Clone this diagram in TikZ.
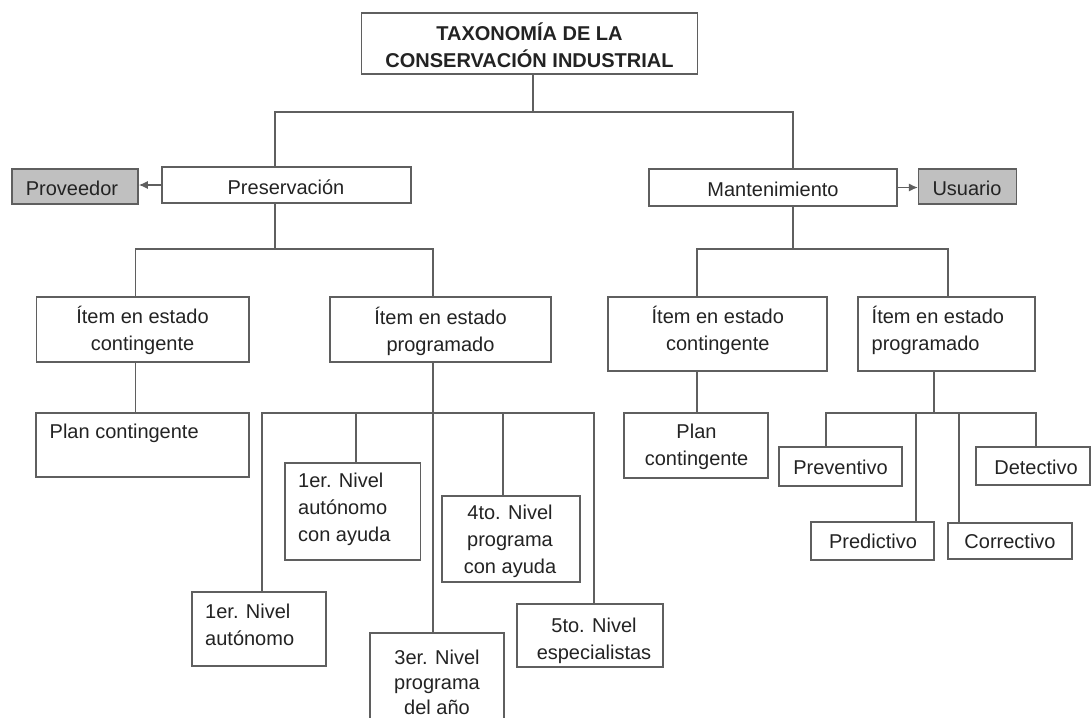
\documentclass[tikz,border=0pt]{standalone}
\usepackage{fontspec}
\setmainfont{Liberation Sans}
\usetikzlibrary{arrows.meta}
\definecolor{linec}{RGB}{95,95,95}
\definecolor{textc}{RGB}{35,35,35}
\definecolor{fillg}{RGB}{192,192,192}
\begin{document}
\begin{tikzpicture}[x=1pt,y=-1pt,
  frame/.style={draw=linec, line width=1.5pt, fill=white, inner sep=0pt},
  gframe/.style={frame, fill=fillg},
  txt/.style={inner sep=0pt, text=textc, font=\fontsize{20pt}{27pt}\selectfont},
  conn/.style={draw=linec, line width=1.4pt},
  arr/.style={conn, -{Latex[length=9pt,width=8pt]}}]
\useasboundingbox (0,0) rectangle (1091,717);
% frames
\node[frame, minimum width=336pt, minimum height=61pt] (title) at (529.5,43.5) {};
\node[gframe, minimum width=126pt, minimum height=35pt] (prov) at (75,186.5) {};
\node[frame, minimum width=249pt, minimum height=36pt] (pres) at (286.5,185) {};
\node[frame, minimum width=248pt, minimum height=37pt] (mant) at (773,187.5) {};
\node[gframe, minimum width=98pt, minimum height=35pt] (user) at (967.7,186.5) {};
\node[frame, minimum width=212.5pt, minimum height=65pt] (icl) at (142.75,329.5) {};
\node[frame, minimum width=221pt, minimum height=65pt] (ipl) at (440.5,329.5) {};
\node[frame, minimum width=219pt, minimum height=74pt] (icr) at (717.5,334) {};
\node[frame, minimum width=177pt, minimum height=74pt] (ipr) at (946.5,334) {};
\node[frame, minimum width=213pt, minimum height=64pt] (pcl) at (142.5,445) {};
\node[frame, minimum width=144pt, minimum height=65pt] (pcr) at (696,445.5) {};
\node[frame, minimum width=135.5pt, minimum height=97pt] (n1b) at (352.75,511.5) {};
\node[frame, minimum width=138pt, minimum height=86pt] (n4) at (511,539) {};
\node[frame, minimum width=134pt, minimum height=74pt] (n1a) at (259,629) {};
\node[frame, minimum width=134pt, minimum height=107pt] (n3) at (437,686.5) {};
\node[frame, minimum width=146pt, minimum height=63pt] (n5) at (590,635.5) {};
\node[frame, minimum width=123pt, minimum height=39pt] (prev) at (840.5,466.5) {};
\node[frame, minimum width=114pt, minimum height=38pt] (det) at (1033,466) {};
\node[frame, minimum width=123pt, minimum height=38pt] (pred) at (872.5,541) {};
\node[frame, minimum width=124pt, minimum height=36pt] (corr) at (1010,541) {};
% texts
\node[txt, align=center] (title-t) at (529.5,45) {\bfseries TAXONOMÍA DE LA\\\bfseries CONSERVACIÓN INDUSTRIAL};
\node[txt] (prov-t) at (72,188) {Proveedor};
\node[txt] (pres-t) at (286,187) {Preservación};
\node[txt] (mant-t) at (773,189) {Mantenimiento};
\node[txt] (user-t) at (967,188) {Usuario};
\node[txt, align=center] (icl-t) at (142.5,330) {Ítem en estado\\contingente};
\node[txt, align=center] (ipl-t) at (440.5,331) {Ítem en estado\\programado};
\node[txt, align=center] (icr-t) at (717.8,330.5) {Ítem en estado\\contingente};
\node[txt, align=left, anchor=west] (ipr-t) at (871.5,330.5) {Ítem en estado\\programado};
\node[txt, anchor=west] (pcl-t) at (49.5,433) {Plan contingente};
\node[txt, align=center] (pcr-t) at (696.5,446.5) {Plan\\contingente};
\node[txt, align=left, anchor=west] (n1b-t) at (298,509) {1er. Nivel\\autónomo\\con ayuda};
\node[txt, align=center] (n4-t) at (510,541.5) {4to. Nivel\\programa\\con ayuda};
\node[txt, align=left, anchor=west] (n1a-t) at (205,625) {1er. Nivel\\autónomo};
\node[txt, align=center, font=\fontsize{20pt}{25pt}\selectfont] (n3-t) at (437,682) {3er. Nivel\\programa\\del año};
\node[txt, align=center] (n5-t) at (594,641) {5to. Nivel\\especialistas};
\node[txt] (prev-t) at (840.5,467.5) {Preventivo};
\node[txt] (det-t) at (1036,467) {Detectivo};
\node[txt] (pred-t) at (873,541.5) {Predictivo};
\node[txt] (corr-t) at (1010,541.5) {Correctivo};
% junction coordinates
\coordinate (b1l) at (275,112);
\coordinate (b1m) at (533,112);
\coordinate (b1r) at (793,112);
\coordinate (b2l) at (135.5,249);
\coordinate (b2m) at (275,249);
\coordinate (b2r) at (433,249);
\coordinate (b3l) at (697,249);
\coordinate (b3m) at (793,249);
\coordinate (b3r) at (948,249);
\coordinate (b4a) at (262,413);
\coordinate (b4b) at (356,413);
\coordinate (b4c) at (433,413);
\coordinate (b4d) at (503,413);
\coordinate (b4e) at (594,413);
\coordinate (b5a) at (826,413);
\coordinate (b5b) at (916,413);
\coordinate (b5m) at (934,413);
\coordinate (b5c) at (959,413);
\coordinate (b5d) at (1036,413);
% connectors
\draw[conn] (title.south -| b1m) -- (b1m);
\draw[conn] (pres.north -| b1l) -- (b1l) -- (b1r) -- (mant.north -| b1r);
\draw[arr] (pres.west) -- (prov.east |- pres.west);
\draw[arr] (mant.east) -- (user.west |- mant.east);
\draw[conn] (pres.south -| b2m) -- (b2m);
\draw[conn] (icl.north -| b2l) -- (b2l) -- (b2r) -- (ipl.north -| b2r);
\draw[conn] (mant.south -| b3m) -- (b3m);
\draw[conn] (icr.north -| b3l) -- (b3l) -- (b3r) -- (ipr.north -| b3r);
\draw[conn] (icl.south -| b2l) -- (pcl.north -| b2l);
\draw[conn] (icr.south -| b3l) -- (pcr.north -| b3l);
\draw[conn] (ipl.south -| b4c) -- (n3.north -| b4c);
\draw[conn] (n1a.north -| b4a) -- (b4a) -- (b4e) -- (n5.north -| b4e);
\draw[conn] (b4b) -- (n1b.north -| b4b);
\draw[conn] (b4d) -- (n4.north -| b4d);
\draw[conn] (ipr.south -| b5m) -- (b5m);
\draw[conn] (prev.north -| b5a) -- (b5a) -- (b5d) -- (det.north -| b5d);
\draw[conn] (b5b) -- (pred.north -| b5b);
\draw[conn] (b5c) -- (corr.north -| b5c);
\end{tikzpicture}
\end{document}
